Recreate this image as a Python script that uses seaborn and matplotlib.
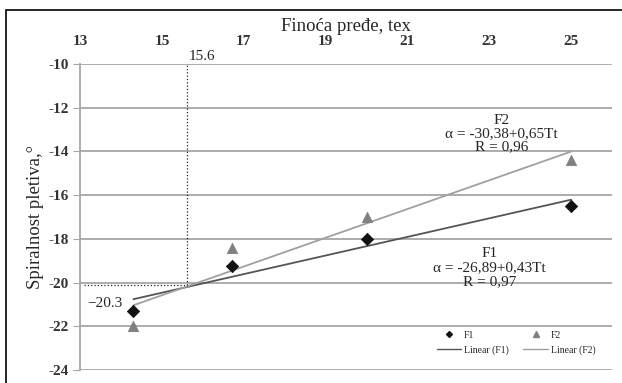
import numpy as np
import pandas as pd
import seaborn as sns
import matplotlib.pyplot as plt
from matplotlib.lines import Line2D

sns.set_style("white")
plt.rcParams['font.family'] = ['Liberation Serif', 'DejaVu Serif']
plt.rcParams['axes.unicode_minus'] = False

FONTSIZE = 11

# data
finoca = [14.3, 16.7, 20.0, 25.0]
spiral_f1 = [-21.3, -19.25, -18.0, -16.5]
spiral_f2 = [-22.0, -18.4, -17.0, -14.4]
x_ticks = [13, 15, 17, 19, 21, 23, 25]
y_ticks = [-24, -22, -20, -18, -16, -14, -12, -10]
mark_x = 15.6
mark_y = -20.1

df = pd.DataFrame({'x': finoca, 'F1': spiral_f1, 'F2': spiral_f2})

fig = plt.figure(figsize=(6.22, 3.83), dpi=100)
ax = fig.add_axes([0.129, 0.034, 0.855, 0.799])

for yv in y_ticks:
    ax.axhline(yv, color='#a6a6a6', lw=1.3, zorder=0)

# trend lines
sns.regplot(data=df, x='x', y='F1', ci=None, scatter=False, truncate=True,
            line_kws={'color': '#555555', 'lw': 1.3}, ax=ax)
sns.regplot(data=df, x='x', y='F2', ci=None, scatter=False, truncate=True,
            line_kws={'color': '#a0a0a0', 'lw': 1.3}, ax=ax)

# points
sns.scatterplot(data=df, x='x', y='F1', marker='D', s=40, color='#111111',
                edgecolor='#111111', ax=ax, zorder=5)
sns.scatterplot(data=df, x='x', y='F2', marker='^', s=55, color='#808080',
                edgecolor='#808080', ax=ax, zorder=5)

# reading lines
ax.plot([13.1, mark_x], [mark_y, mark_y], ls=':', color='#222222', lw=0.9)
ax.plot([mark_x, mark_x], [mark_y, -10], ls=':', color='#222222', lw=0.9)
ax.text(13.17, -20.95, '\u221220.3', ha='left', va='center', fontsize=11)
ax.text(mark_x + 0.06, -9.97, '15.6', ha='left', va='bottom', fontsize=11,
        clip_on=False)

ax.text(23.3, -13.2, 'F2\n\u03b1 = -30,38+0,65Tt\nR = 0,96', ha='center',
        va='center', fontsize=FONTSIZE, linespacing=1.0)
ax.text(23.0, -19.3, 'F1\n\u03b1 = -26,89+0,43Tt\nR = 0,97', ha='center',
        va='center', fontsize=FONTSIZE, linespacing=1.1)

ax.set_xlim(13, 26)
ax.set_ylim(-24, -10)
ax.set_xticks(x_ticks)
ax.set_yticks(y_ticks)
ax.xaxis.tick_top()
ax.xaxis.set_label_position('top')
ax.tick_params(axis='x', top=False, labelsize=FONTSIZE, pad=8)
ax.tick_params(axis='y', left=True, length=5, color='#a6a6a6', labelsize=FONTSIZE)
for lab in ax.get_xticklabels() + ax.get_yticklabels():
    lab.set_fontweight('bold')
    lab.set_color('#333333')
ax.set_xlabel('Finoća pređe, tex', fontsize=13.5, labelpad=3)
ax.set_ylabel('Spiralnost pletiva,°', fontsize=13.5, labelpad=3)
for side in ['top', 'right', 'bottom']:
    ax.spines[side].set_visible(False)
ax.spines['left'].set_color('#a6a6a6')
ax.spines['left'].set_linewidth(1.3)

handles = [
    Line2D([0], [0], marker='D', lw=0, markersize=3, color='#111111', label='F1'),
    Line2D([0], [0], color='#555555', lw=1, label='Linear (F1)'),
    Line2D([0], [0], marker='^', lw=0, markersize=4, color='#808080', label='F2'),
    Line2D([0], [0], color='#a0a0a0', lw=1, label='Linear (F2)'),
]
ax.legend(handles=handles, ncol=2, loc='lower right', bbox_to_anchor=(0.985, 0.02),
          frameon=False, fontsize=7, handlelength=2.5, columnspacing=1.5,
          handletextpad=0.3, labelspacing=0.6)

# outer frame
fig.patches.append(plt.Rectangle((0.009, -0.1), 1.2, 1.074, transform=fig.transFigure,
                                 fill=False, ec='black', lw=1.2))

fig.savefig('out.png', dpi=100)
